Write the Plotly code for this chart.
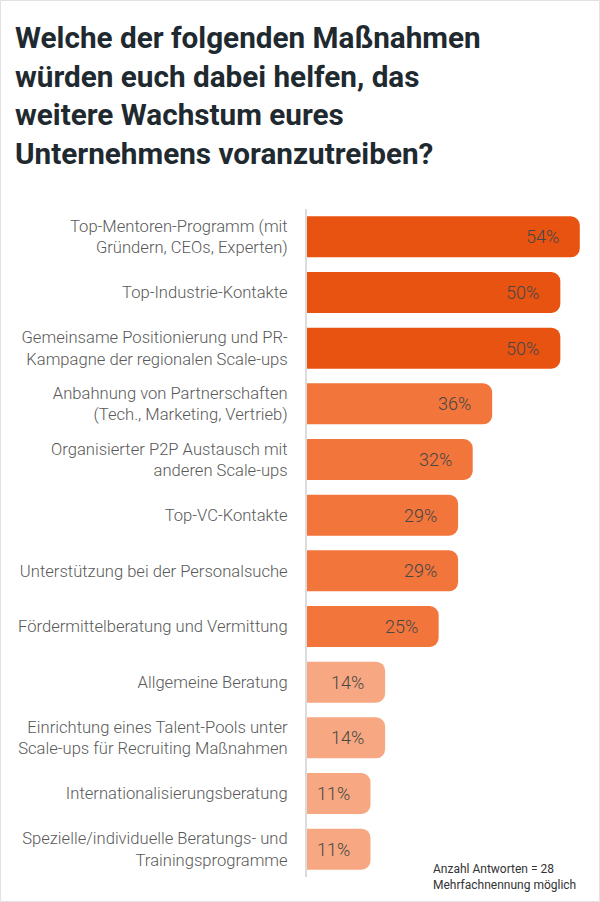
import plotly.graph_objects as go

categories = [
    "Top-Mentoren-Programm (mit<br>Gründern, CEOs, Experten)",
    "Top-Industrie-Kontakte",
    "Gemeinsame Positionierung und PR-<br>Kampagne der regionalen Scale-ups",
    "Anbahnung von Partnerschaften<br>(Tech., Marketing, Vertrieb)",
    "Organisierter P2P Austausch mit<br>anderen Scale-ups",
    "Top-VC-Kontakte",
    "Unterstützung bei der Personalsuche",
    "Fördermittelberatung und Vermittung",
    "Allgemeine Beratung",
    "Einrichtung eines Talent-Pools unter<br>Scale-ups für Recruiting Maßnahmen",
    "Internationalisierungsberatung",
    "Spezielle/individuelle Beratungs- und<br>Trainingsprogramme",
]
values = [54, 50, 50, 36, 32, 29, 29, 25, 14, 14, 11, 11]
tiers = [0, 0, 0, 1, 1, 1, 1, 1, 2, 2, 2, 2]
tier_colors = ["#E85312", "#F2753B", "#F7A781"]

title_text = ("Welche der folgenden Maßnahmen<br>würden euch dabei helfen, das<br>"
              "weitere Wachstum eures<br>Unternehmens voranzutreiben?")
note_text = "Anzahl Antworten = 28<br>Mehrfachnennung möglich"

W, H = 600, 902
ML, MR, MT, MB = 307, 10, 209, 25
x0 = -2.05
px_per_unit = 4.867
x1 = x0 + (W - ML - MR) / px_per_unit
pw, ph = W - ML - MR, H - MT - MB

fig = go.Figure()
fig.add_trace(go.Bar(
    x=[v - (x0 - 2) for v in values],
    base=[x0 - 2] * len(values),
    y=categories,
    orientation="h",
    marker=dict(color=[tier_colors[t] for t in tiers], cornerradius=9, line=dict(width=0)),
    hoverinfo="skip",
))

for c, v in zip(categories, values):
    fig.add_annotation(
        x=v, y=c, xref="x", yref="y", text=f"{v}%", showarrow=False,
        xanchor="right", xshift=-19,
        font=dict(family="Roboto Light, Roboto", size=18, color="#474747", weight=300),
    )

fig.add_annotation(
    x=(431 - ML) / pw, y=(H - MB - 860) / ph, xref="paper", yref="paper", text=note_text,
    showarrow=False, xanchor="left", yanchor="top", align="left",
    font=dict(family="Roboto", size=12, color="#333333"),
)

fig.add_shape(type="rect", xref="paper", yref="paper",
              x0=(0.5 - ML) / pw, x1=(W - 0.5 - ML) / pw,
              y0=-(MB - 0.5) / ph, y1=1 + (MT - 0.5) / ph,
              line=dict(color="#E2E2E2", width=1), fillcolor="rgba(0,0,0,0)", layer="above")

fig.update_layout(
    width=W, height=H,
    margin=dict(l=ML, r=MR, t=MT, b=MB, pad=0),
    paper_bgcolor="white", plot_bgcolor="white",
    showlegend=False,
    bargap=0.263,
    title=dict(
        text=title_text, x=15 / W, xanchor="left", xref="container",
        y=1 - 48 / H, yanchor="top", yref="container",
        font=dict(family="Roboto", size=29.7, color="#1F2A30", weight="bold"),
    ),
    xaxis=dict(range=[x0, x1], visible=False, fixedrange=True),
    yaxis=dict(
        autorange="reversed", showline=True, linecolor="#DCDCDC", linewidth=2,
        showgrid=False, zeroline=False, ticks="", ticklabelstandoff=14,
        tickfont=dict(family="Roboto Light, Roboto", size=16.6, color="#595959", weight=300),
        fixedrange=True,
    ),
)

fig.write_html("out.html")
